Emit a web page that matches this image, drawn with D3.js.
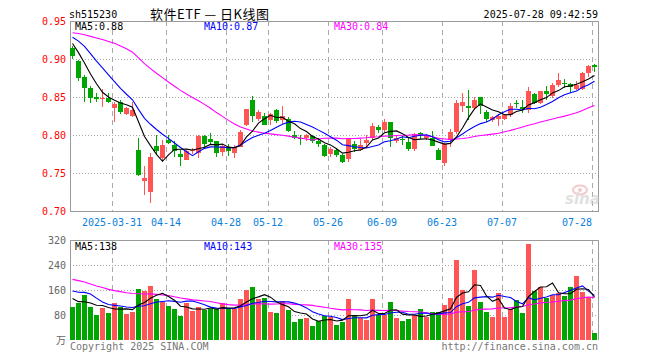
<!DOCTYPE html>
<html><head><meta charset="utf-8">
<script src="https://cdn.jsdelivr.net/npm/d3@7"></script>
<style>html,body{margin:0;padding:0;background:#fff}svg{display:block}</style>
</head><body>
<svg id="c" width="660" height="360"></svg>
<script>
// ---------- DATA ----------
const dates = ["03-20","03-21","03-24","03-25","03-26","03-27","03-28","03-31",
"04-01","04-02","04-03","04-07","04-08","04-09","04-10","04-11","04-14","04-15","04-16","04-17","04-18","04-21","04-22","04-23","04-24","04-25","04-28","04-29","04-30",
"05-06","05-07","05-08","05-09","05-12","05-13","05-14","05-15","05-16","05-19","05-20","05-21","05-22","05-23","05-26","05-27","05-28","05-29","05-30",
"06-03","06-04","06-05","06-06","06-09","06-10","06-11","06-12","06-13","06-16","06-17","06-18","06-19","06-20","06-23","06-24","06-25","06-26","06-27","06-30",
"07-01","07-02","07-03","07-04","07-07","07-08","07-09","07-10","07-11","07-14","07-15","07-16","07-17","07-18","07-21","07-22","07-23","07-24","07-25","07-28"];
const openP  = [.915,.898,.877,.862,.851,.848,.849,.836,.844,.828,.825,.781,.740,.726,.786,.770,.794,.787,.775,.768,.780,.777,.799,.795,.792,.778,.784,.777,.785,.813,.846,.821,.825,.820,.833,.820,.822,.800,.797,.797,.799,.792,.787,.775,.781,.774,.769,.789,.781,.790,.796,.811,.807,.817,.792,.795,.791,.782,.803,.797,.796,.781,.764,.794,.805,.838,.839,.836,.850,.831,.820,.821,.821,.827,.843,.837,.833,.854,.842,.858,.852,.866,.869,.868,.861,.861,.882,.893];
const highP  = [.918,.899,.879,.865,.856,.861,.856,.844,.847,.837,.844,.796,.759,.777,.800,.794,.800,.792,.781,.782,.783,.800,.800,.803,.793,.789,.789,.787,.807,.835,.852,.833,.829,.829,.834,.838,.824,.806,.801,.802,.800,.796,.789,.784,.783,.775,.795,.793,.795,.800,.816,.814,.821,.817,.799,.799,.796,.803,.805,.802,.806,.783,.790,.808,.847,.856,.860,.850,.850,.833,.825,.828,.828,.842,.847,.847,.864,.856,.858,.865,.869,.882,.874,.869,.871,.883,.893,.894];
const lowP   = [.901,.871,.844,.842,.844,.837,.842,.818,.828,.827,.824,.746,.721,.711,.774,.765,.789,.772,.760,.767,.776,.770,.782,.787,.771,.773,.773,.770,.784,.812,.818,.819,.813,.813,.816,.815,.804,.795,.787,.793,.790,.785,.772,.772,.771,.763,.765,.778,.780,.784,.794,.803,.805,.785,.790,.787,.780,.779,.795,.794,.786,.768,.760,.784,.802,.831,.820,.833,.828,.817,.818,.812,.820,.824,.836,.830,.830,.841,.841,.847,.849,.864,.862,.856,.859,.860,.877,.883];
const closeP = [.905,.875,.862,.849,.848,.849,.844,.841,.831,.836,.833,.748,.744,.771,.779,.787,.790,.780,.772,.780,.781,.799,.789,.791,.777,.786,.779,.785,.805,.834,.825,.831,.814,.828,.819,.826,.806,.797,.796,.800,.793,.789,.773,.782,.774,.765,.795,.782,.787,.794,.812,.807,.817,.796,.797,.794,.782,.802,.800,.799,.786,.768,.789,.805,.842,.844,.836,.847,.838,.821,.824,.825,.827,.839,.841,.835,.858,.842,.858,.855,.866,.873,.867,.864,.866,.882,.891,.890];
const volume = [107,119,144,107,80,103,87,119,105,84,91,163,158,173,131,123,110,99,78,117,94,107,96,98,98,119,101,98,131,160,170,131,134,90,86,125,96,58,67,70,45,61,77,74,48,58,131,80,70,64,131,80,80,122,70,62,67,80,99,75,90,90,112,134,256,160,109,224,122,90,74,150,74,99,128,86,306,157,170,134,144,152,141,170,204,154,138,22];
// closes and volumes (万) of the 29 sessions before the window, used only for the moving averages
const priorClose = [.905,.910,.915,.910,.915,.920,.913,.935,.950,.965,.970,.975,.968,.962,.958,.964,.945,.935,.925,.921,.925,.930,.945,.948,.937,.935,.930,.922,.912];
const priorVolume = [240,280,300,260,250,270,239,200,190,170,185,175,165,180,173,180,210,195,200,188,160,150,156,215,224,170,145,128,115];
const priceTicks = [0.70,0.75,0.80,0.85,0.90,0.95];
const priceTickLabels = ["0.70","0.75","0.80","0.85","0.90","0.95"];
const volTicks = [0,80,160,240,320];
const volTickLabels = ["万","80","160","240","320"];
const dateTicks = ["03-31","04-14","04-28","05-12","05-26","06-09","06-23","07-07","07-28"];
const dateTickLabels = ["2025-03-31","04-14","04-28","05-12","05-26","06-09","06-23","07-07","07-28"];
const symbol = "sh515230";
const title = "软件ETF — 日K线图";
const stamp = "2025-07-28 09:42:59";

// ---------- CHART ----------
const MONO = "'DejaVu Sans Mono', 'Liberation Mono', monospace";
const RED = "#ff5555", GREEN = "#00a600";
const svg = d3.select("#c");
const L = 70, R = 598;
const x = d3.scaleLinear().domain([0, dates.length - 1]).range([72, 594]);
const yP = d3.scaleLinear().domain([0.70, 0.95]).range([211.3, 21.3]);
const yV = d3.scaleLinear().domain([0, 320]).range([340, 240]);

function ma(series, prior, n) {
  const all = prior.concat(series);
  return series.map((_, i) => d3.mean(all.slice(prior.length + i - n + 1, prior.length + i + 1)));
}
const up = closeP.map((c, i) => c >= openP[i]);

// grids
const g = svg.append("g").attr("shape-rendering", "crispEdges");
priceTicks.filter(t => t > 0.70 && t < 0.95).forEach(t => {
  g.append("line").attr("x1", L).attr("x2", R).attr("y1", Math.round(yP(t)) + 0.5).attr("y2", Math.round(yP(t)) + 0.5)
    .attr("stroke", "#a8a8a8").attr("stroke-dasharray", "1,2");
});
volTicks.filter(t => t > 0 && t < 320).forEach(t => {
  g.append("line").attr("x1", L).attr("x2", R).attr("y1", Math.round(yV(t)) + 0.5).attr("y2", Math.round(yV(t)) + 0.5)
    .attr("stroke", "#a8a8a8").attr("stroke-dasharray", "1,2");
});
dateTicks.forEach(d => {
  const xi = Math.round(x(dates.indexOf(d))) - 2 + 0.5;
  [[21, 211], [240, 340]].forEach(([a, b]) => {
    g.append("line").attr("x1", xi).attr("x2", xi).attr("y1", a).attr("y2", b)
      .attr("stroke", "#aaaaaa").attr("stroke-dasharray", "5,4");
  });
});

// frames
g.append("rect").attr("x", L + 0.5).attr("y", 21.5).attr("width", R - L).attr("height", 190)
  .attr("fill", "none").attr("stroke", "#9a9a9a");
g.append("path").attr("d", `M${L + 0.5},340V240.5H${R + 0.5}V340`).attr("fill", "none").attr("stroke", "#9a9a9a");

// watermark
const wm = svg.append("g").attr("opacity", 0.55);
wm.append("ellipse").attr("cx", 580).attr("cy", 190).attr("rx", 7).attr("ry", 4.5).attr("fill", "none").attr("stroke", "#e8a0a0").attr("stroke-width", 2);
wm.append("circle").attr("cx", 580).attr("cy", 190).attr("r", 2).attr("fill", "#e8a0a0");
wm.append("text").attr("x", 565).attr("y", 204).attr("font-family", "'DejaVu Sans', sans-serif").attr("font-style", "italic")
  .attr("font-weight", "bold").attr("font-size", 15).attr("fill", "#c8c8c8").text("sina");

// candles
const cg = svg.append("g").attr("shape-rendering", "crispEdges");
dates.forEach((d, i) => {
  const xc = Math.round(x(i));
  const col = up[i] ? RED : GREEN;
  cg.append("rect").attr("x", xc).attr("width", 1).attr("y", yP(highP[i])).attr("height", Math.max(1, yP(lowP[i]) - yP(highP[i]))).attr("fill", col);
  const top = yP(Math.max(openP[i], closeP[i])), bot = yP(Math.min(openP[i], closeP[i]));
  cg.append("rect").attr("x", xc - 2).attr("width", 5).attr("y", top).attr("height", Math.max(1, bot - top)).attr("fill", col);
  cg.append("rect").attr("x", xc - 2).attr("width", 5).attr("y", yV(volume[i])).attr("height", yV(0) - yV(volume[i])).attr("fill", col);
});

// moving averages
const maCols = ["#000000", "#0000ff", "#ff00ff"];
const lineP = d3.line().x((d, i) => Math.round(x(i)) + 0.5).y(d => yP(d));
const lineV = d3.line().x((d, i) => Math.round(x(i)) + 0.5).y(d => yV(d));
const pMA = [5, 10, 30].map(n => ma(closeP, priorClose, n));
const vMA = [5, 10, 30].map(n => ma(volume, priorVolume, n));
[2, 1, 0].forEach(k => {
  svg.append("path").attr("d", lineP(pMA[k])).attr("fill", "none").attr("stroke", maCols[k]).attr("stroke-width", 1.1);
  svg.append("path").attr("d", lineV(vMA[k])).attr("fill", "none").attr("stroke", maCols[k]).attr("stroke-width", 1.1);
});

// texts
function txt(xp, yp, s, col, anchor, size, fam) {
  return svg.append("text").attr("x", xp).attr("y", yp).attr("fill", col).attr("text-anchor", anchor || "start")
    .attr("font-family", fam || MONO).attr("font-size", size || 10).text(s);
}
txt(69, 18, symbol, "#000");
txt(150, 18.5, title, "#000", "start", 13, "'Noto Sans CJK SC', " + MONO).attr("textLength", 119);
txt(598, 18, stamp, "#000", "end");

const labs = ["MA5", "MA10", "MA30"], labX = [75, 204, 334];
const last = a => a[a.length - 1];
labs.forEach((l, k) => {
  txt(labX[k], 30, l + ":" + last(pMA[k]).toFixed(2), maCols[k]);
  txt(labX[k], 250, l + ":" + Math.round(last(vMA[k])), maCols[k]);
});

priceTicks.forEach((t, k) => txt(66, yP(t) + 4, priceTickLabels[k], "#ff0000", "end"));
volTicks.forEach((t, k) => txt(66, yV(t) + 4, volTickLabels[k], "#666666", "end", 10, t === 0 ? "'Noto Sans CJK SC', sans-serif" : MONO));

dateTicks.forEach((d, k) => {
  const xi = Math.round(x(dates.indexOf(d))) - 2;
  const isLast = k === dateTicks.length - 1;
  txt(xi, 226, dateTickLabels[k], "#0a7fdc", isLast ? "end" : "middle");
});

txt(70, 350, "Copyright 2025 SINA.COM", "#777777");
txt(598, 350, "http://finance.sina.com.cn", "#777777", "end");
</script>
</body></html>
